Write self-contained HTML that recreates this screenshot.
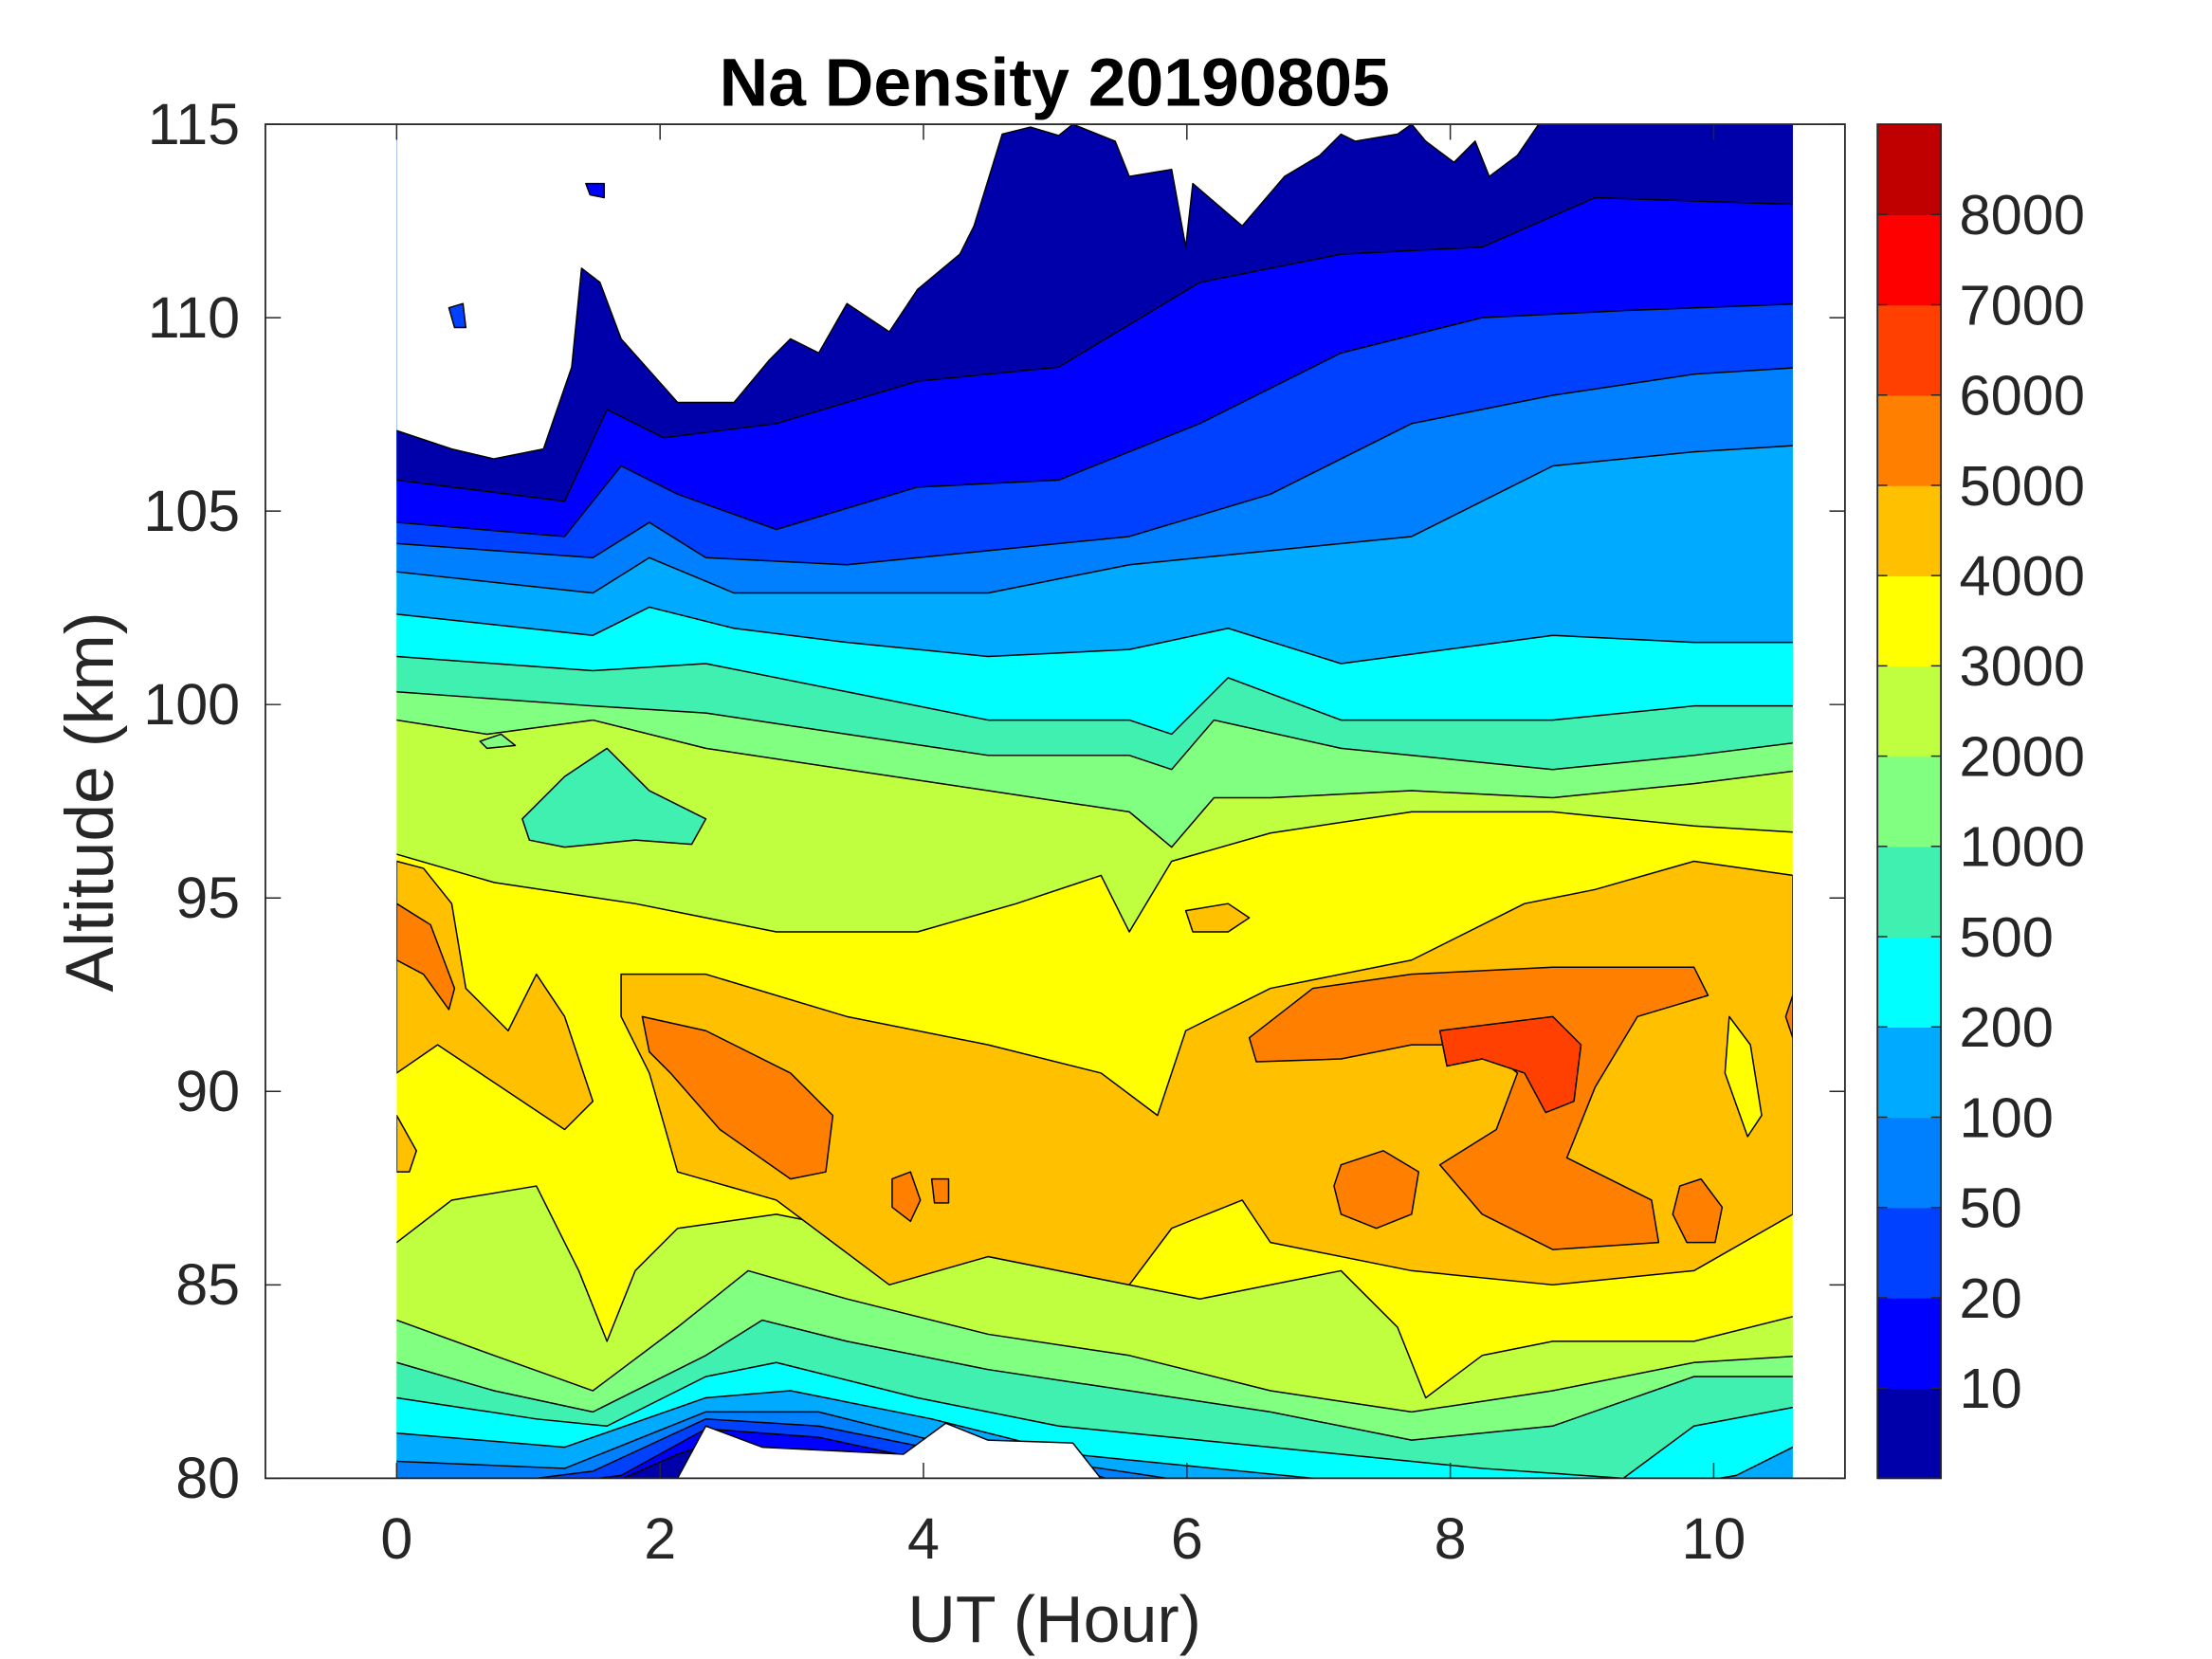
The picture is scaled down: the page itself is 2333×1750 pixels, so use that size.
<!DOCTYPE html>
<html><head><meta charset="utf-8"><style>
html,body{margin:0;padding:0;background:#fff;}
svg{display:block;}
text{font-family:"Liberation Sans",sans-serif;fill:#262626;}
</style></head><body>
<svg id="s" width="2333" height="1750" viewBox="0 0 1567 1175" preserveAspectRatio="none" xmlns="http://www.w3.org/2000/svg">
<defs><clipPath id="c"><rect x="281" y="88" width="989" height="959"/></clipPath></defs>
<rect x="0" y="0" width="1567" height="1175" fill="#fff"/>
<g id="d" clip-path="url(#c)" stroke="#000" stroke-width="1" stroke-linejoin="round"></g>
<g id="ax"></g>
</svg>
<script>
const NS="http://www.w3.org/2000/svg";
const d=document.getElementById('d'), ax=document.getElementById('ax');
function el(p,tag,at,txt){const e=document.createElementNS(NS,tag);for(const k in at)e.setAttribute(k,at[k]);if(txt!==undefined)e.textContent=txt;p.appendChild(e);return e;}
function poly(pts,fill,stroke){el(d,'polygon',{points:pts.map(p=>p.join(',')).join(' '),fill:fill,stroke:stroke===false?'none':'#000'});}
function arr(a){const r=[];for(let i=0;i<a.length;i+=2)r.push([a[i],a[i+1]]);return r;}
function upper(a,c){poly([[270,80]].concat(arr(a)).concat([[1280,80]]),c);}
function lower(a,c){poly([[270,1060]].concat(arr(a)).concat([[1280,1060]]),c);}
poly([[281,88],[1270,88],[1270,1047],[281,1047]],'#FFFF00',false);
upper([270,605,281,605,350,625,450,640,550,660,650,660,720,640,780,620,800,660,830,610,900,590,1000,575,1100,575,1200,585,1280,590],'#C0FF40');
upper([270,510,281,510,345,520,420,510,500,530,600,545,700,560,800,575,830,600,860,565,900,565,1000,560,1100,565,1200,555,1280,545],'#80FF80');
upper([270,490,281,490,420,500,500,505,600,520,700,535,800,535,830,545,860,510,950,530,1100,545,1200,535,1280,525],'#40F0B0');
upper([270,465,281,465,420,475,500,470,600,490,700,510,800,510,830,520,870,480,950,510,1100,510,1200,500,1280,500],'#00FFFF');
upper([270,435,281,435,420,450,460,430,520,445,600,455,700,465,800,460,870,445,950,470,1100,450,1200,455,1280,455],'#00AAFF');
upper([270,405,281,405,420,420,460,395,520,420,600,420,700,420,800,400,900,390,1000,380,1100,330,1200,320,1280,315],'#0080FF');
upper([270,385,281,385,420,395,460,370,500,395,600,400,700,390,800,380,900,350,1000,300,1100,280,1200,265,1280,260],'#0040FF');
upper([270,370,281,370,400,380,440,330,480,350,550,375,650,345,750,340,850,300,950,250,1050,225,1150,220,1280,215],'#0000FF');
upper([270,340,281,340,400,355,430,290,470,310,550,300,650,270,750,260,850,200,950,180,1050,175,1130,140,1280,145],'#0000AA');
upper([270,305,281,305,320,318,350,325,385,318,405,260,412,190,425,200,440,240,480,285,520,285,545,255,560,240,580,250,600,215,630,235,650,205,680,180,690,160,710,95,730,90,750,96,760,88,790,100,800,125,830,120,840,175,845,130,880,160,910,125,935,110,950,95,960,100,990,95,1000,88,1010,100,1030,115,1045,100,1055,125,1075,110,1090,88,1280,88],'#FFFFFF');
poly([[318,218],[328,215],[330,232],[322,232]],'#0040FF');
poly([[415,130],[428,130],[428,140],[418,138]],'#0000FF');
poly([[370,580],[400,550],[430,530],[460,560],[500,580],[490,598],[450,595],[400,600],[375,595]],'#40F0B0');
poly([[340,525],[355,520],[365,528],[345,530]],'#80FF80');
lower([270,880,281,880,320,850,380,840,410,900,430,950,450,900,480,870,550,860,650,880,750,900,850,920,950,900,990,940,1010,990,1050,960,1100,950,1200,950,1280,930],'#C0FF40');
lower([270,935,281,935,350,960,420,985,480,940,530,900,600,920,700,945,800,960,900,985,1000,1000,1100,985,1200,965,1280,960],'#80FF80');
lower([270,965,281,965,350,985,420,1000,500,960,540,935,600,950,700,970,800,985,900,1000,1000,1020,1100,1010,1200,975,1280,975],'#40F0B0');
lower([270,990,281,990,380,1005,430,1010,500,975,550,965,650,990,750,1010,850,1020,950,1030,1050,1040,1150,1047,1200,1010,1280,995],'#00FFFF');
lower([270,1015,281,1015,400,1025,500,990,560,985,660,1005,760,1030,860,1040,960,1050,1200,1050,1230,1045,1280,1020],'#00AAFF');
lower([270,1035,281,1035,400,1040,500,1000,580,1000,680,1025,780,1040,860,1052,1280,1052],'#0080FF');
lower([270,1052,380,1047,420,1042,500,1005,580,1010,680,1030,760,1040,800,1052],'#0040FF');
lower([270,1060,400,1050,440,1045,500,1012,580,1018,660,1035,760,1045,800,1060],'#0000FF');
lower([270,1060,430,1052,480,1030,510,1020,560,1030,640,1040,700,1045,790,1060],'#0000AA');
poly([[465,1060],[480,1047],[500,1010],[540,1025],[640,1030],[670,1008],[700,1020],[760,1022],[790,1060]],'#FFFFFF');
poly([[440,690],[500,690],[600,720],[700,740],[780,760],[820,790],[840,730],[900,700],[1000,680],[1080,640],[1130,630],[1200,610],[1270,620],[1270,860],[1200,900],[1100,910],[1000,900],[900,880],[880,850],[830,870],[800,910],[700,890],[630,910],[550,850],[480,830],[460,760],[440,720]],'#FFC000');
poly([[281,610],[300,615],[320,640],[330,700],[360,730],[380,690],[400,720],[420,780],[400,800],[340,760],[310,740],[281,760]],'#FFC000');
poly([[840,645],[870,640],[885,650],[870,660],[845,660]],'#FFC000');
poly([[281,790],[295,815],[290,830],[281,830]],'#FFC000');
poly([[1225,720],[1240,740],[1248,790],[1238,805],[1222,760]],'#FFFF00');
poly([[455,720],[500,730],[560,760],[590,790],[585,830],[560,835],[510,800],[475,760],[460,745]],'#FF8000');
poly([[885,735],[930,700],[1000,690],[1100,685],[1200,685],[1210,705],[1160,720],[1130,770],[1110,820],[1170,850],[1175,880],[1100,885],[1050,860],[1020,825],[1060,800],[1075,760],[1050,740],[1000,740],[950,750],[890,752]],'#FF8000');
poly([[950,825],[980,815],[1005,830],[1000,860],[975,870],[950,860],[945,840]],'#FF8000');
poly([[1190,840],[1205,835],[1220,855],[1215,880],[1195,880],[1185,860]],'#FF8000');
poly([[632,835],[645,830],[652,850],[645,865],[632,855]],'#FF8000');
poly([[660,835],[672,835],[672,852],[662,852]],'#FF8000');
poly([[281,640],[305,655],[322,700],[318,715],[300,690],[281,680]],'#FF8000');
poly([[1265,720],[1270,705],[1270,735]],'#FF8000');
poly([[1020,730],[1100,720],[1120,740],[1115,780],[1095,788],[1080,760],[1050,750],[1025,755]],'#FF4000');
el(ax,'rect',{x:188,y:88,width:1119,height:959,fill:'none',stroke:'#262626','stroke-width':1.2});
for(let k=0;k<=10;k+=2){const x=281+93.3*k;
 el(ax,'line',{x1:x,y1:1047,x2:x,y2:1036,stroke:'#262626'});
 el(ax,'line',{x1:x,y1:88,x2:x,y2:99,stroke:'#262626'});
 el(ax,'text',{x:x,y:1104,'font-size':41,'text-anchor':'middle'},String(k));}
for(let i=0;i<8;i++){const y=1047-137*i,v=80+5*i;
 el(ax,'line',{x1:188,y1:y,x2:199,y2:y,stroke:'#262626'});
 el(ax,'line',{x1:1307,y1:y,x2:1296,y2:y,stroke:'#262626'});
 el(ax,'text',{x:170,y:y+14,'font-size':41,'text-anchor':'end'},String(v));}
el(ax,'text',{x:747,y:75,'font-size':48,'font-weight':'bold','text-anchor':'middle',style:'fill:#000'},'Na Density 20190805');
el(ax,'text',{x:747,y:1163,'font-size':47,'text-anchor':'middle'},'UT (Hour)');
el(ax,'text',{x:0,y:0,'font-size':48,'text-anchor':'middle',transform:'translate(80,568) rotate(-90)'},'Altitude (km)');
const cols=['#0000AA','#0000FF','#0040FF','#0080FF','#00AAFF','#00FFFF','#40F0B0','#80FF80','#C0FF40','#FFFF00','#FFC000','#FF8000','#FF4000','#FF0000','#C00000'];
const h=959/15;
cols.forEach((c,i)=>el(ax,'rect',{x:1330,y:1047-h*(i+1),width:45,height:h+0.5,fill:c}));
el(ax,'rect',{x:1330,y:88,width:45,height:959,fill:'none',stroke:'#262626','stroke-width':1.2});
const labs=['10','20','50','100','200','500','1000','2000','3000','4000','5000','6000','7000','8000'];
labs.forEach((t,i)=>{const y=1047-h*(i+1);
 el(ax,'line',{x1:1330,y1:y,x2:1337,y2:y,stroke:'#262626'});
 el(ax,'line',{x1:1375,y1:y,x2:1368,y2:y,stroke:'#262626'});
 el(ax,'text',{x:1388,y:y+14,'font-size':40},t);});
</script>
</body></html>
